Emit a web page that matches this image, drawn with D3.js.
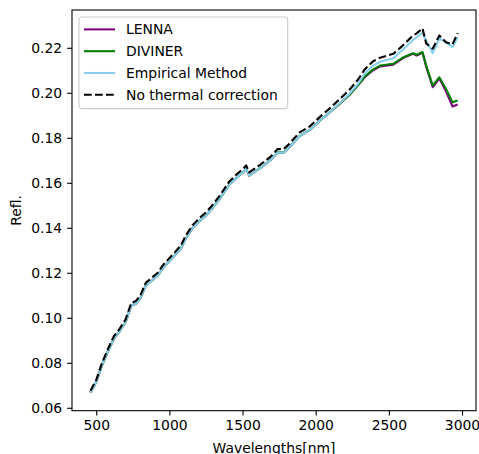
<!DOCTYPE html>
<html>
<head>
<meta charset="utf-8">
<script src="https://cdn.jsdelivr.net/npm/d3@7"></script>
<style>
  body { margin: 0; background: #fff; }
  text { font-family: "DejaVu Sans", sans-serif; }
</style>
</head>
<body>
<div id="chart"></div>
<script>
// wavelengths (nm)
var wavelengths = [460,500,540,580,620,660,700,740,770,800,840,880,920,960,1000,1040,1080,1110,1160,1210,
  1250,1280,1340,1410,1460,1500,1525,1545,1580,1620,1690,1740,1780,1820,1890,1960,2030,2100,2165,2230,
  2290,2335,2390,2440,2530,2600,2665,2690,2730,2755,2800,2845,2890,2935,2970]

var lenna = [0.0668,0.0715,0.0790,0.0850,0.0906,0.0940,0.0980,0.1055,0.1062,0.1085,
  0.1145,0.1166,0.1188,0.1224,0.1252,0.1280,0.1310,0.1350,0.1400,0.1432,
  0.1455,0.1476,0.1525,0.1592,0.1624,0.1645,0.1662,0.1632,0.1648,0.1665,
  0.1700,0.1735,0.1734,0.1758,0.1808,0.1835,0.1877,0.1916,0.1952,0.1990,
  0.2034,0.2069,0.2099,0.2117,0.2125,0.2155,0.2173,0.2166,0.2178,0.2116,
  0.2025,0.2063,0.2008,0.1939,0.1948]

var diviner = [0.0668,0.0715,0.0790,0.0850,0.0906,0.0940,0.0980,0.1055,0.1062,0.1085,
  0.1145,0.1166,0.1188,0.1224,0.1252,0.1280,0.1310,0.1350,0.1400,0.1432,
  0.1455,0.1476,0.1525,0.1592,0.1624,0.1645,0.1662,0.1632,0.1648,0.1665,
  0.1700,0.1735,0.1734,0.1758,0.1808,0.1835,0.1877,0.1916,0.1952,0.1990,
  0.2034,0.2072,0.2103,0.2121,0.2129,0.2158,0.2176,0.2169,0.2181,0.2121,
  0.2032,0.2069,0.2018,0.1958,0.1966]

var empirical = [0.0668,0.0715,0.0790,0.0850,0.0906,0.0940,0.0980,0.1055,0.1062,0.1085,
  0.1145,0.1166,0.1188,0.1224,0.1252,0.1280,0.1310,0.1350,0.1400,0.1432,
  0.1455,0.1476,0.1525,0.1592,0.1624,0.1645,0.1662,0.1632,0.1648,0.1665,
  0.1700,0.1735,0.1734,0.1758,0.1808,0.1835,0.1877,0.1916,0.1955,0.1995,
  0.2040,0.2085,0.2120,0.2138,0.2153,0.2195,0.2235,0.2247,0.2268,0.2233,
  0.2176,0.2240,0.2225,0.2203,0.2247]

var noThermal = [0.0676,0.0724,0.0800,0.0861,0.0917,0.0951,0.0992,0.1067,0.1074,0.1097,
  0.1157,0.1178,0.1200,0.1237,0.1265,0.1293,0.1323,0.1363,0.1413,0.1446,
  0.1469,0.1490,0.1539,0.1606,0.1638,0.1660,0.1677,0.1646,0.1662,0.1680,
  0.1715,0.1750,0.1749,0.1774,0.1824,0.1851,0.1894,0.1933,0.1973,0.2013,
  0.2059,0.2104,0.2139,0.2156,0.2173,0.2213,0.2255,0.2264,0.2287,0.2219,
  0.2196,0.2255,0.2225,0.2215,0.2265]

var seriesNames = ["LENNA","DIVINER","Empirical Method","No thermal correction"]
var seriesColors = ["purple","green","skyblue","black"]
var xTicks = [500,1000,1500,2000,2500,3000]
var yTicks = [0.06,0.08,0.10,0.12,0.14,0.16,0.18,0.20,0.22]

dibujar()

function dibujar(){
  var W=479, H=454
  var margin={top:10,left:72,right:3,bottom:43.3}
  var ancho=W-margin.left-margin.right
  var alto=H-margin.top-margin.bottom
  var fs=13.9

  var svg=d3.select("#chart").append("svg")
    .attr("width",W).attr("height",H)
  var g=svg.append("g").attr("transform","translate("+margin.left+","+margin.top+")")

  var series=[lenna,diviner,empirical,noThermal]

  // margenes tipo matplotlib (5%)
  var xExt=d3.extent(wavelengths)
  var yAll=[].concat(lenna,diviner,empirical,noThermal)
  var yExt=d3.extent(yAll)
  var dx=(xExt[1]-xExt[0])*0.05, dy=(yExt[1]-yExt[0])*0.05

  var x=d3.scaleLinear().domain([xExt[0]-dx,xExt[1]+dx]).range([0,ancho])
  var y=d3.scaleLinear().domain([yExt[0]-dy,yExt[1]+dy]).range([alto,0])

  var linea=d3.line()
    .x(function(d,i){return x(wavelengths[i])})
    .y(function(d){return y(d)})

  g.selectAll("path.serie")
    .data(series)
    .enter()
    .append("path")
    .attr("class","serie")
    .attr("d",linea)
    .style("fill","none")
    .style("stroke",function(d,i){return seriesColors[i]})
    .style("stroke-width",2.08)
    .style("stroke-linejoin","round")
    .style("stroke-dasharray",function(d,i){return i==3?"7.7,3.3":null})

  // ejes
  var xAxis=g.append("g").attr("transform","translate(0,"+alto+")")
    .call(d3.axisBottom(x).tickValues(xTicks).tickSize(4.9).tickPadding(4.9).tickFormat(d3.format("d")))
  var yAxis=g.append("g")
    .call(d3.axisLeft(y).tickValues(yTicks).tickSize(4.9).tickPadding(4.9).tickFormat(d3.format(".2f")))
  ;[xAxis,yAxis].forEach(function(a){
    a.select(".domain").remove()
    a.selectAll("line").style("stroke","black").style("stroke-width",1.1)
    a.selectAll("text").style("font-size",fs+"px").style("fill","black")
      .style("font-family","DejaVu Sans")
  })

  g.append("rect").attr("width",ancho).attr("height",alto)
    .style("fill","none").style("stroke","black").style("stroke-width",1.1)

  svg.append("text").attr("x",margin.left+ancho/2).attr("y",H-1.5)
    .attr("text-anchor","middle").style("font-size",fs+"px").text("Wavelengths[nm]")
  svg.append("text")
    .attr("transform","translate(21,"+(margin.top+alto/2)+") rotate(-90)")
    .attr("text-anchor","middle").style("font-size",fs+"px").text("Refl.")

  // leyenda
  var leg=g.append("g").attr("transform","translate(7,7)")
  var caja=leg.append("rect").attr("rx",2.8).attr("ry",2.8)
    .style("fill","white").style("fill-opacity",0.8)
    .style("stroke","#cccccc").style("stroke-width",1.1)
  var maxW=0
  seriesNames.forEach(function(nombre,i){
    var cy=12.4+i*21.8
    leg.append("line").attr("x1",5).attr("x2",36).attr("y1",cy).attr("y2",cy)
      .style("stroke",seriesColors[i]).style("stroke-width",2.08)
      .style("stroke-dasharray",i==3?"7.7,3.3":null)
    var t=leg.append("text").attr("x",47).attr("y",cy).attr("dy","0.35em")
      .style("font-size",fs+"px").text(nombre)
    maxW=Math.max(maxW,t.node().getComputedTextLength())
  })
  caja.attr("width",47+maxW+10).attr("height",91.6)
}
</script>
</body>
</html>
